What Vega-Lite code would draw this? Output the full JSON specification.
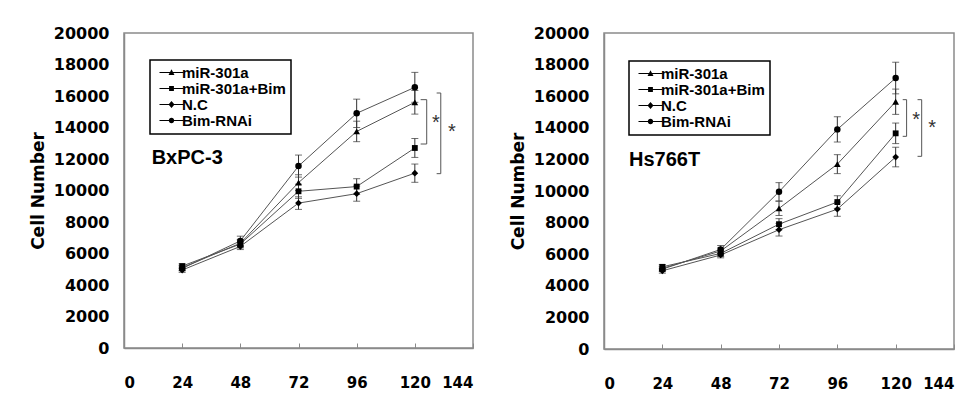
{
  "$schema": "https://vega.github.io/schema/vega-lite/v6.json",
  "background": "white",
  "padding": {"left": 28, "top": 24, "right": 5, "bottom": 5},
  "bounds": "flush",
  "spacing": 131,
  "datasets": {
    "bx": [
      {"series": "miR-301a", "t": 24, "value": 5100, "err": 150},
      {"series": "miR-301a", "t": 48, "value": 6650, "err": 250},
      {"series": "miR-301a", "t": 72, "value": 10500, "err": 500},
      {"series": "miR-301a", "t": 96, "value": 13750, "err": 650},
      {"series": "miR-301a", "t": 120, "value": 15600, "err": 750},
      {"series": "miR-301a+Bim", "t": 24, "value": 5200, "err": 150},
      {"series": "miR-301a+Bim", "t": 48, "value": 6600, "err": 250},
      {"series": "miR-301a+Bim", "t": 72, "value": 9950, "err": 450},
      {"series": "miR-301a+Bim", "t": 96, "value": 10250, "err": 500},
      {"series": "miR-301a+Bim", "t": 120, "value": 12700, "err": 600},
      {"series": "N.C", "t": 24, "value": 4950, "err": 150},
      {"series": "N.C", "t": 48, "value": 6450, "err": 200},
      {"series": "N.C", "t": 72, "value": 9200, "err": 400},
      {"series": "N.C", "t": 96, "value": 9800, "err": 480},
      {"series": "N.C", "t": 120, "value": 11100, "err": 580},
      {"series": "Bim-RNAi", "t": 24, "value": 5050, "err": 150},
      {"series": "Bim-RNAi", "t": 48, "value": 6800, "err": 300},
      {"series": "Bim-RNAi", "t": 72, "value": 11550, "err": 700},
      {"series": "Bim-RNAi", "t": 96, "value": 14900, "err": 900},
      {"series": "Bim-RNAi", "t": 120, "value": 16550, "err": 950}
    ],
    "hs": [
      {"series": "miR-301a", "t": 24, "value": 5100, "err": 150},
      {"series": "miR-301a", "t": 48, "value": 6200, "err": 200},
      {"series": "miR-301a", "t": 72, "value": 8900, "err": 450},
      {"series": "miR-301a", "t": 96, "value": 11700, "err": 600},
      {"series": "miR-301a", "t": 120, "value": 15650, "err": 800},
      {"series": "miR-301a+Bim", "t": 24, "value": 5200, "err": 150},
      {"series": "miR-301a+Bim", "t": 48, "value": 6050, "err": 200},
      {"series": "miR-301a+Bim", "t": 72, "value": 7900, "err": 350},
      {"series": "miR-301a+Bim", "t": 96, "value": 9300, "err": 400},
      {"series": "miR-301a+Bim", "t": 120, "value": 13650, "err": 650},
      {"series": "N.C", "t": 24, "value": 4950, "err": 150},
      {"series": "N.C", "t": 48, "value": 5950, "err": 180},
      {"series": "N.C", "t": 72, "value": 7550, "err": 400},
      {"series": "N.C", "t": 96, "value": 8850, "err": 450},
      {"series": "N.C", "t": 120, "value": 12150, "err": 620},
      {"series": "Bim-RNAi", "t": 24, "value": 5050, "err": 150},
      {"series": "Bim-RNAi", "t": 48, "value": 6300, "err": 250},
      {"series": "Bim-RNAi", "t": 72, "value": 9950, "err": 580},
      {"series": "Bim-RNAi", "t": 96, "value": 13900, "err": 800},
      {"series": "Bim-RNAi", "t": 120, "value": 17150, "err": 1000}
    ],
    "bxBr": [
      {"x1": 124.9, "x2": 124.9, "y1": 15767, "y2": 12952},
      {"x1": 122.4, "x2": 124.9, "y1": 15767, "y2": 15767},
      {"x1": 122.4, "x2": 124.9, "y1": 12952, "y2": 12952},
      {"x1": 130.7, "x2": 130.7, "y1": 16190, "y2": 11069},
      {"x1": 129.0, "x2": 130.7, "y1": 16190, "y2": 16190},
      {"x1": 129.0, "x2": 130.7, "y1": 11069, "y2": 11069}
    ],
    "hsBr": [
      {"x1": 124.5, "x2": 124.5, "y1": 15781, "y2": 13460},
      {"x1": 122.9, "x2": 124.5, "y1": 15781, "y2": 15781},
      {"x1": 122.9, "x2": 124.5, "y1": 13460, "y2": 13460},
      {"x1": 130.7, "x2": 130.7, "y1": 15781, "y2": 12194},
      {"x1": 129.0, "x2": 130.7, "y1": 15781, "y2": 15781},
      {"x1": 129.0, "x2": 130.7, "y1": 12194, "y2": 12194}
    ],
    "bxName": [{"x": 11.4, "y": 12060, "label": "BxPC-3"}],
    "hsName": [{"x": 10.3, "y": 11960, "label": "Hs766T"}],
    "bxStar": [{"x": 127.1, "y": 14305, "label": "*"}, {"x": 133.7, "y": 13735, "label": "*"}],
    "hsStar": [{"x": 126.8, "y": 14515, "label": "*"}, {"x": 133.4, "y": 13987, "label": "*"}]
  },
  "config": {
    "view": {"stroke": "#8a8a8a", "strokeWidth": 1.5},
    "axis": {
      "grid": false,
      "domainColor": "#8a8a8a",
      "domainWidth": 1.5,
      "tickColor": "#8a8a8a",
      "labelFont": "DejaVu Sans",
      "labelFontWeight": "bold",
      "labelColor": "black",
      "titleColor": "black",
      "labelOverlap": false,
      "labelSeparation": 0
    },
    "legend": {
      "orient": "none",
      "title": null,
      "padding": 5,
      "strokeColor": "black",
      "strokeWidth": 1.5,
      "fillColor": "white",
      "labelFont": "Liberation Sans",
      "labelFontWeight": "bold",
      "labelFontSize": 15,
      "labelColor": "black",
      "symbolSize": 36,
      "symbolOffset": 9,
      "labelOffset": 3,
      "rowPadding": -1,
      "symbolFillColor": "black",
      "symbolStrokeColor": "black",
      "symbolStrokeWidth": 0.5
    }
  },
  "resolve": {"legend": {"shape": "independent"}, "scale": {"shape": "independent"}},
  "hconcat": [
    {
      "width": 349,
      "height": 315,
      "layer": [
        {
          "data": {"name": "bx"},
          "mark": {"type": "line", "color": "#555", "strokeWidth": 1},
          "encoding": {
            "x": {"field": "t", "type": "quantitative", "scale": {"domain": [0, 144], "nice": false},
                  "axis": {"values": [0, 24, 48, 72, 96, 120, 144], "title": null, "tickSize": -5, "labelPadding": 32, "labelFontSize": 15, "labelOverlap": false}},
            "y": {"field": "value", "type": "quantitative", "scale": {"domain": [0, 20000], "nice": false}, "title": "Cell Number",
                  "axis": {"values": [0, 2000, 4000, 6000, 8000, 10000, 12000, 14000, 16000, 18000, 20000], "format": "d", "tickCount": 11, "tickSize": 0, "labelPadding": 15, "labelFontSize": 16, "labelOverlap": false,
                           "titleFont": "DejaVu Sans", "titleFontWeight": "bold", "titleFontSize": 17, "titlePadding": 6}},
            "detail": {"field": "series"}
          }
        },
        {
          "data": {"name": "bx"},
          "mark": {"type": "errorbar", "ticks": {"size": 7, "color": "#333"}, "rule": {"color": "#333"}},
          "encoding": {
            "x": {"field": "t", "type": "quantitative"},
            "y": {"field": "value", "type": "quantitative", "title": "Cell Number"},
            "yError": {"field": "err"}
          }
        },
        {
          "data": {"name": "bx"},
          "transform": [{"filter": "datum.series === 'miR-301a'"}],
          "mark": {"type": "point", "shape": "triangle-up", "filled": true, "size": 45, "color": "black", "opacity": 1},
          "encoding": {"x": {"field": "t", "type": "quantitative"}, "y": {"field": "value", "type": "quantitative"}}
        },
        {
          "data": {"name": "bx"},
          "transform": [{"filter": "datum.series === 'miR-301a+Bim'"}],
          "mark": {"type": "point", "shape": "square", "filled": true, "size": 34, "color": "black", "opacity": 1},
          "encoding": {"x": {"field": "t", "type": "quantitative"}, "y": {"field": "value", "type": "quantitative"}}
        },
        {
          "data": {"name": "bx"},
          "transform": [{"filter": "datum.series === 'N.C'"}],
          "mark": {"type": "point", "shape": "diamond", "filled": true, "size": 45, "color": "black", "opacity": 1},
          "encoding": {"x": {"field": "t", "type": "quantitative"}, "y": {"field": "value", "type": "quantitative"}}
        },
        {
          "data": {"name": "bx"},
          "transform": [{"filter": "datum.series === 'Bim-RNAi'"}],
          "mark": {"type": "point", "shape": "circle", "filled": true, "size": 42, "color": "black", "opacity": 1},
          "encoding": {"x": {"field": "t", "type": "quantitative"}, "y": {"field": "value", "type": "quantitative"}}
        },
        {
          "data": {"name": "bx"},
          "transform": [{"filter": "datum.t > 1000"}],
          "mark": {"type": "point", "filled": true, "color": "black", "opacity": 1},
          "encoding": {
            "x": {"field": "t", "type": "quantitative"},
            "y": {"field": "value", "type": "quantitative"},
            "shape": {"field": "series", "type": "nominal",
              "scale": {"domain": ["miR-301a", "miR-301a+Bim", "N.C", "Bim-RNAi"],
                        "range": ["M-4,-0.17H4V0.17H-4ZM0,-1.1L1,0.8L-1,0.8Z", "M-4,-0.17H4V0.17H-4ZM-0.8,-0.8H0.8V0.8H-0.8Z", "M-4,-0.17H4V0.17H-4ZM0,-1.2L1,0L0,1.2L-1,0Z", "M-4,-0.17H4V0.17H-4ZM-0.9,0A0.9,0.9 0 1,1 0.9,0A0.9,0.9 0 1,1 -0.9,0Z"]},
              "legend": {"legendX": 26, "legendY": 27}
            }
          }
        },
        {
          "data": {"name": "bxBr"},
          "mark": {"type": "rule", "color": "#555", "strokeWidth": 1},
          "encoding": {
            "x": {"field": "x1", "type": "quantitative"},
            "x2": {"field": "x2"},
            "y": {"field": "y1", "type": "quantitative"},
            "y2": {"field": "y2"}
          }
        },
        {
          "data": {"name": "bxName"},
          "mark": {"type": "text", "align": "left", "baseline": "middle", "font": "Liberation Sans", "fontWeight": "bold", "fontSize": 20, "color": "black"},
          "encoding": {"x": {"field": "x", "type": "quantitative"}, "y": {"field": "y", "type": "quantitative"}, "text": {"field": "label"}}
        },
        {
          "data": {"name": "bxStar"},
          "mark": {"type": "text", "align": "left", "baseline": "middle", "font": "Liberation Sans", "fontSize": 20, "color": "#333"},
          "encoding": {"x": {"field": "x", "type": "quantitative"}, "y": {"field": "y", "type": "quantitative"}, "text": {"field": "label"}}
        }
      ]
    },
    {
      "width": 350,
      "height": 316,
      "layer": [
        {
          "data": {"name": "hs"},
          "mark": {"type": "line", "color": "#555", "strokeWidth": 1},
          "encoding": {
            "x": {"field": "t", "type": "quantitative", "scale": {"domain": [0, 144], "nice": false},
                  "axis": {"values": [0, 24, 48, 72, 96, 120, 144], "title": null, "tickSize": -5, "labelPadding": 32, "labelFontSize": 15, "labelOverlap": false}},
            "y": {"field": "value", "type": "quantitative", "scale": {"domain": [0, 20000], "nice": false}, "title": "Cell Number",
                  "axis": {"values": [0, 2000, 4000, 6000, 8000, 10000, 12000, 14000, 16000, 18000, 20000], "format": "d", "tickCount": 11, "tickSize": 0, "labelPadding": 15, "labelFontSize": 16, "labelOverlap": false,
                           "titleFont": "DejaVu Sans", "titleFontWeight": "bold", "titleFontSize": 17, "titlePadding": 6}},
            "detail": {"field": "series"}
          }
        },
        {
          "data": {"name": "hs"},
          "mark": {"type": "errorbar", "ticks": {"size": 7, "color": "#333"}, "rule": {"color": "#333"}},
          "encoding": {
            "x": {"field": "t", "type": "quantitative"},
            "y": {"field": "value", "type": "quantitative", "title": "Cell Number"},
            "yError": {"field": "err"}
          }
        },
        {
          "data": {"name": "hs"},
          "transform": [{"filter": "datum.series === 'miR-301a'"}],
          "mark": {"type": "point", "shape": "triangle-up", "filled": true, "size": 45, "color": "black", "opacity": 1},
          "encoding": {"x": {"field": "t", "type": "quantitative"}, "y": {"field": "value", "type": "quantitative"}}
        },
        {
          "data": {"name": "hs"},
          "transform": [{"filter": "datum.series === 'miR-301a+Bim'"}],
          "mark": {"type": "point", "shape": "square", "filled": true, "size": 34, "color": "black", "opacity": 1},
          "encoding": {"x": {"field": "t", "type": "quantitative"}, "y": {"field": "value", "type": "quantitative"}}
        },
        {
          "data": {"name": "hs"},
          "transform": [{"filter": "datum.series === 'N.C'"}],
          "mark": {"type": "point", "shape": "diamond", "filled": true, "size": 45, "color": "black", "opacity": 1},
          "encoding": {"x": {"field": "t", "type": "quantitative"}, "y": {"field": "value", "type": "quantitative"}}
        },
        {
          "data": {"name": "hs"},
          "transform": [{"filter": "datum.series === 'Bim-RNAi'"}],
          "mark": {"type": "point", "shape": "circle", "filled": true, "size": 42, "color": "black", "opacity": 1},
          "encoding": {"x": {"field": "t", "type": "quantitative"}, "y": {"field": "value", "type": "quantitative"}}
        },
        {
          "data": {"name": "hs"},
          "transform": [{"filter": "datum.t > 1000"}],
          "mark": {"type": "point", "filled": true, "color": "black", "opacity": 1},
          "encoding": {
            "x": {"field": "t", "type": "quantitative"},
            "y": {"field": "value", "type": "quantitative"},
            "shape": {"field": "series", "type": "nominal",
              "scale": {"domain": ["miR-301a", "miR-301a+Bim", "N.C", "Bim-RNAi"],
                        "range": ["M-4,-0.17H4V0.17H-4ZM0,-1.1L1,0.8L-1,0.8Z", "M-4,-0.17H4V0.17H-4ZM-0.8,-0.8H0.8V0.8H-0.8Z", "M-4,-0.17H4V0.17H-4ZM0,-1.2L1,0L0,1.2L-1,0Z", "M-4,-0.17H4V0.17H-4ZM-0.9,0A0.9,0.9 0 1,1 0.9,0A0.9,0.9 0 1,1 -0.9,0Z"]},
              "legend": {"legendX": 25, "legendY": 28}
            }
          }
        },
        {
          "data": {"name": "hsBr"},
          "mark": {"type": "rule", "color": "#555", "strokeWidth": 1},
          "encoding": {
            "x": {"field": "x1", "type": "quantitative"},
            "x2": {"field": "x2"},
            "y": {"field": "y1", "type": "quantitative"},
            "y2": {"field": "y2"}
          }
        },
        {
          "data": {"name": "hsName"},
          "mark": {"type": "text", "align": "left", "baseline": "middle", "font": "Liberation Sans", "fontWeight": "bold", "fontSize": 20, "color": "black"},
          "encoding": {"x": {"field": "x", "type": "quantitative"}, "y": {"field": "y", "type": "quantitative"}, "text": {"field": "label"}}
        },
        {
          "data": {"name": "hsStar"},
          "mark": {"type": "text", "align": "left", "baseline": "middle", "font": "Liberation Sans", "fontSize": 20, "color": "#333"},
          "encoding": {"x": {"field": "x", "type": "quantitative"}, "y": {"field": "y", "type": "quantitative"}, "text": {"field": "label"}}
        }
      ]
    }
  ]
}
